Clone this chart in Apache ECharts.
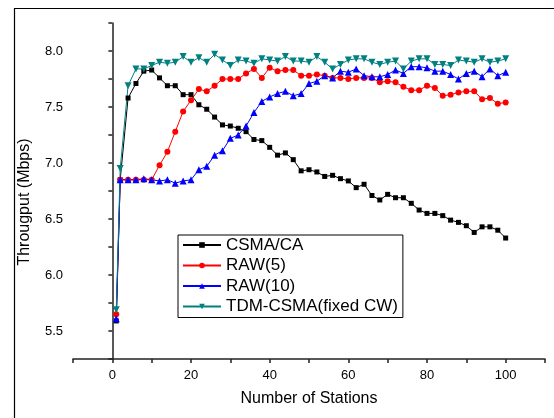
<!DOCTYPE html>
<html style="height: 100%">
<head>
    <meta charset="utf-8">
    <script type="text/javascript" src="https://cdn.jsdelivr.net/npm/echarts@6/dist/echarts.min.js"></script>
</head>
<body style="height: 100%; margin: 0; background: #fff">
    <div id="container" style="width: 554px; height: 418px"></div>
    <script type="text/javascript">
        // number of stations
        var stations = [1, 2, 4, 6, 8, 10, 12, 14, 16, 18, 20, 22, 24, 26, 28, 30, 32, 34, 36, 38, 40,
            42, 44, 46, 48, 50, 52, 54, 56, 58, 60, 62, 64, 66, 68, 70, 72, 74, 76, 78, 80,
            82, 84, 86, 88, 90, 92, 94, 96, 98, 100];
        var csmaCa = [5.59, 6.85, 7.58, 7.71, 7.82, 7.83, 7.76, 7.69, 7.69, 7.61, 7.61,
            7.52, 7.48, 7.41, 7.34, 7.33, 7.31, 7.28, 7.21, 7.20, 7.14,
            7.07, 7.09, 7.03, 6.93, 6.94, 6.92, 6.88, 6.89, 6.86, 6.84,
            6.78, 6.81, 6.71, 6.67, 6.72, 6.69, 6.69, 6.64, 6.58, 6.55,
            6.55, 6.53, 6.49, 6.47, 6.44, 6.38, 6.43, 6.43, 6.40, 6.33];
        var raw5 = [5.65, 6.85, 6.85, 6.85, 6.85, 6.85, 6.98, 7.10, 7.28, 7.46, 7.56,
            7.66, 7.64, 7.69, 7.75, 7.75, 7.75, 7.80, 7.84, 7.76, 7.85,
            7.82, 7.83, 7.83, 7.78, 7.78, 7.79, 7.78, 7.76, 7.76, 7.75,
            7.76, 7.76, 7.76, 7.72, 7.73, 7.72, 7.68, 7.65, 7.65, 7.69,
            7.67, 7.60, 7.61, 7.63, 7.64, 7.64, 7.57, 7.58, 7.53, 7.54];
        var raw10 = [5.61, 6.85, 6.85, 6.85, 6.86, 6.85, 6.84, 6.85, 6.82, 6.84, 6.85,
            6.94, 6.97, 7.07, 7.11, 7.22, 7.25, 7.33, 7.45, 7.55, 7.59,
            7.62, 7.64, 7.60, 7.62, 7.71, 7.73, 7.78, 7.76, 7.82, 7.81,
            7.84, 7.78, 7.77, 7.77, 7.79, 7.83, 7.80, 7.86, 7.86, 7.85,
            7.82, 7.82, 7.79, 7.75, 7.80, 7.82, 7.77, 7.84, 7.78, 7.81];
        var tdmCsma = [5.69, 6.95, 7.69, 7.84, 7.84, 7.87, 7.90, 7.89, 7.90, 7.95, 7.90,
            7.94, 7.90, 7.97, 7.92, 7.87, 7.92, 7.91, 7.89, 7.93, 7.92,
            7.91, 7.95, 7.91, 7.91, 7.90, 7.95, 7.90, 7.84, 7.88, 7.92,
            7.93, 7.93, 7.90, 7.88, 7.90, 7.91, 7.84, 7.91, 7.93, 7.93,
            7.88, 7.88, 7.87, 7.92, 7.91, 7.90, 7.93, 7.90, 7.91, 7.93];

        function pairs(ys) {
            return stations.map(function (x, i) { return [x, ys[i]]; });
        }

        var font = 'Liberation Sans, Arial, sans-serif';
        var axisColor = '#222';
        var dom = document.getElementById('container');
        var chart = echarts.init(dom, null, { renderer: 'canvas' });

        function lineSeries(name, data, color, symbol, size, rotate) {
            return {
                name: name,
                type: 'line',
                data: pairs(data),
                symbol: symbol,
                symbolSize: size,
                symbolRotate: rotate || 0,
                showAllSymbol: true,
                animation: false,
                itemStyle: { color: color },
                lineStyle: { color: color, width: 1 }
            };
        }

        var option = {
            backgroundColor: '#fff',
            animation: false,
            textStyle: { fontFamily: font, color: '#000' },
            graphic: [{
                type: 'rect',
                left: 12,
                top: 6,
                shape: { width: 580, height: 440 },
                style: { fill: 'none', stroke: '#000', lineWidth: 1.2 },
                silent: true
            }],
            grid: { left: 73, right: 9, top: 23, bottom: 59 },
            legend: {
                orient: 'vertical',
                left: 178,
                top: 235,
                padding: [0, 5, 1, 4],
                itemGap: 0.5,
                itemWidth: 38,
                itemHeight: 7,
                borderColor: '#000',
                borderWidth: 1,
                textStyle: { fontFamily: font, fontSize: 17, color: '#000', lineHeight: 20 },
                data: ['CSMA/CA', 'RAW(5)', 'RAW(10)', 'TDM-CSMA(fixed CW)']
            },
            xAxis: {
                type: 'value',
                min: -10,
                max: 110,
                interval: 10,
                name: 'Number of Stations',
                nameLocation: 'middle',
                nameGap: 32,
                nameTextStyle: { fontFamily: font, fontSize: 16, color: '#000' },
                axisLine: { lineStyle: { color: axisColor, width: 1.5 } },
                axisTick: { inside: false, length: 4, lineStyle: { color: axisColor, width: 1.5 } },
                axisLabel: {
                    margin: 10,
                    fontFamily: font,
                    fontSize: 13,
                    color: '#000',
                    formatter: function (v) { return v % 20 === 0 ? String(v) : ''; }
                },
                splitLine: { show: false }
            },
            yAxis: {
                type: 'value',
                min: 5.25,
                max: 8.25,
                interval: 0.25,
                name: 'Througput (Mbps)',
                nameLocation: 'middle',
                nameGap: 40,
                nameTextStyle: { fontFamily: font, fontSize: 16, color: '#000', padding: [0, 22, 0, 0] },
                axisLine: { show: true, lineStyle: { color: axisColor, width: 1.5 } },
                axisTick: { show: true, inside: false, length: 4, lineStyle: { color: axisColor, width: 1.5 } },
                axisLabel: {
                    margin: 10,
                    fontFamily: font,
                    fontSize: 13,
                    color: '#000',
                    formatter: function (v) {
                        var d = v * 2;
                        return Math.abs(d - Math.round(d)) < 1e-6 ? v.toFixed(1) : '';
                    }
                },
                splitLine: { show: false }
            },
            series: [
                lineSeries('CSMA/CA', csmaCa, '#000000', 'rect', 5),
                lineSeries('RAW(5)', raw5, '#ff0000', 'circle', 6),
                lineSeries('RAW(10)', raw10, '#0000ff', 'triangle', 7),
                lineSeries('TDM-CSMA(fixed CW)', tdmCsma, '#008080', 'triangle', 7, 180)
            ]
        };
        chart.setOption(option);
    </script>
</body>
</html>
